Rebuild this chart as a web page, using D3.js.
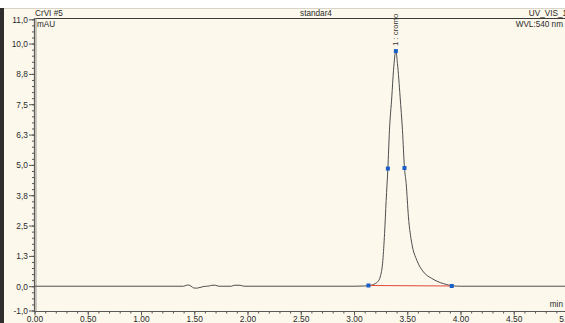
<!DOCTYPE html>
<html>
<head>
<meta charset="utf-8">
<script src="https://cdn.jsdelivr.net/npm/d3@7"></script>
<style>
  html, body { margin: 0; padding: 0; background: #fff; overflow: hidden; }
  svg { display: block; font-family: "Liberation Sans", Arial, sans-serif; }
  .axis path { display: none; }
  .axis text { fill: #2a2a2a; font-size: 8.4px; }
  .axis line { stroke: #555; }
</style>
</head>
<body>
<div id="chart"></div>
<script>
// chromatogram trace (min, mAU)
const times = [0, 1.40, 1.425, 1.448, 1.47, 1.495, 1.52, 1.545, 1.59, 1.64, 1.667, 1.698, 1.73, 1.85, 1.875, 1.93, 1.965,
  3.0, 3.10, 3.136, 3.17, 3.199, 3.225, 3.246, 3.271, 3.287, 3.302, 3.318, 3.333, 3.355, 3.371, 3.393,
  3.408, 3.433, 3.455, 3.474, 3.490, 3.511, 3.543, 3.590, 3.652, 3.731, 3.809, 3.871, 3.918, 4.0, 5.3];
const signal = [0, 0, 0.04, 0.05, 0.0, -0.07, -0.08, -0.06, -0.01, 0.01, 0.04, 0.04, 0.0, 0.0, 0.04, 0.04, 0.0,
  0.0, 0.01, 0.03, 0.05, 0.11, 0.2, 0.38, 1.07, 2.17, 3.54, 4.85, 6.43, 7.8, 8.9, 9.69,
  9.18, 7.8, 6.43, 4.87, 4.23, 2.86, 1.76, 1.07, 0.59, 0.32, 0.15, 0.07, 0.02, 0.0, 0.0];

// peak integration markers
const markerTimes = [3.136, 3.318, 3.393, 3.474, 3.918];
const markerValues = [0.03, 4.85, 9.69, 4.87, 0.01];
const peakLabel = "1 : cromo";

// axis ticks
const yTicks = [11, 10, 8.75, 7.5, 6.25, 5, 3.75, 2.5, 1.25, 0, -1];
const yTickLabels = ["11,0", "10,0", "8,8", "7,5", "6,3", "5,0", "3,8", "2,5", "1,3", "0,0", "-1,0"];
const xTicks = [0, 0.5, 1, 1.5, 2, 2.5, 3, 3.5, 4, 4.5, 5];
const xTickLabels = ["0.00", "0.50", "1.00", "1.50", "2.00", "2.50", "3.00", "3.50", "4.00", "4.50", "5.00"];

const W = 565, H = 323;
const svg = d3.select("#chart").append("svg").attr("width", W).attr("height", H);

// window chrome: white strip on top, dark border on the left, cream panel
svg.append("rect").attr("x", 0).attr("y", 0).attr("width", W).attr("height", H).attr("fill", "#ffffff");
svg.append("rect").attr("x", 0).attr("y", 8).attr("width", W).attr("height", H - 8).attr("fill", "#fcf8ec");
svg.append("line").attr("x1", 0).attr("x2", W).attr("y1", 8.5).attr("y2", 8.5).attr("stroke", "#d8d4c8");
svg.append("rect").attr("x", 0).attr("y", 8).attr("width", 4).attr("height", H - 8).attr("fill", "#2e2e2e");

const x = d3.scaleLinear().domain([0, 5]).range([34.5, 567]);
const y = d3.scaleLinear().domain([-1, 11]).range([310.5, 19.3]);

// frame
svg.append("line").attr("x1", 34).attr("x2", W).attr("y1", 18.5).attr("y2", 18.5).attr("stroke", "#3a3a3a");
svg.append("line").attr("x1", 34.5).attr("x2", 34.5).attr("y1", 18).attr("y2", 311.5).attr("stroke", "#5a5a5a").attr("stroke-width", 1.2);
svg.append("line").attr("x1", 36).attr("x2", 36).attr("y1", 18).attr("y2", 311).attr("stroke", "#9a9a90").attr("stroke-width", 1);
svg.append("line").attr("x1", 34).attr("x2", W).attr("y1", 311.5).attr("y2", 311.5).attr("stroke", "#5a5a5a");

// y axis: minor then major ticks
svg.append("g").attr("class", "axis")
  .attr("transform", "translate(34,0)")
  .call(d3.axisLeft(y).tickValues(d3.range(-1, 11.01, 0.25)).tickSize(2).tickFormat(""));
svg.append("g").attr("class", "axis")
  .attr("transform", "translate(34,0)")
  .call(d3.axisLeft(y).tickValues(yTicks).tickSize(5).tickPadding(1)
    .tickFormat((d, i) => yTickLabels[i]))
  .selectAll("text").attr("dy", "0.35em");

// x axis
svg.append("g").attr("class", "axis")
  .attr("transform", "translate(0,311.5)")
  .call(d3.axisBottom(x).tickValues(d3.range(0, 5.35, 0.1)).tickSize(2).tickFormat(""));
svg.append("g").attr("class", "axis")
  .attr("transform", "translate(0,311.5)")
  .call(d3.axisBottom(x).tickValues(xTicks).tickSize(4).tickPadding(1)
    .tickFormat((d, i) => xTickLabels[i]));

// trace
const trace = times.map((t, i) => ({ t, v: signal[i] }));
const line = d3.line().x(d => x(d.t)).y(d => y(d.v)).curve(d3.curveMonotoneX);
svg.append("path")
  .datum(trace)
  .attr("d", line)
  .attr("fill", "none")
  .attr("stroke", "#4e4e4e")
  .attr("stroke-width", 1);

// integration baseline
svg.append("line")
  .attr("x1", x(markerTimes[0])).attr("y1", y(markerValues[0]))
  .attr("x2", x(markerTimes[4])).attr("y2", y(markerValues[4]))
  .attr("stroke", "#e0483c").attr("stroke-width", 1);

// markers
svg.append("g").selectAll("rect")
  .data(markerTimes)
  .enter()
  .append("rect")
  .attr("x", (d) => x(d) - 2)
  .attr("y", (d, i) => y(markerValues[i]) - 2)
  .attr("width", 4).attr("height", 4)
  .attr("fill", "#1a5fc8");

// peak label, rotated above apex
svg.append("text")
  .attr("transform", `translate(${x(markerTimes[2]) + 2.5},${y(markerValues[2]) - 5}) rotate(-90)`)
  .attr("font-size", 7.8)
  .attr("fill", "#333")
  .text(peakLabel);

// header / annotations
const txt = (tx, ty, s, anchor) => svg.append("text")
  .attr("x", tx).attr("y", ty)
  .attr("text-anchor", anchor || "start")
  .attr("font-size", 8.2)
  .attr("fill", "#2a2a2a")
  .text(s);
txt(35, 15.5, "CrVI #5");
txt(37, 27, "mAU");
txt(316, 15.5, "standar4", "middle");
txt(567, 15.5, "UV_VIS_1", "end");
txt(563, 27, "WVL:540 nm", "end");
txt(563, 307, "min", "end");
</script>
</body>
</html>
